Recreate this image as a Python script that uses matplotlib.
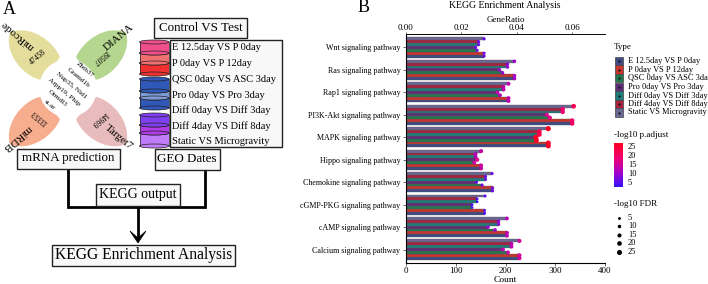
import matplotlib
matplotlib.use('Agg')
import matplotlib.pyplot as plt
import numpy as np
from matplotlib.colors import LinearSegmentedColormap, Normalize
from matplotlib.patches import PathPatch, Rectangle, Ellipse, Circle, Polygon
from matplotlib.path import Path

plt.rcParams['font.family'] = ['Liberation Serif', 'DejaVu Serif']

pathways = ['Wnt signaling pathway', 'Ras signaling pathway', 'Rap1 signaling pathway',
            'PI3K-Akt signaling pathway', 'MAPK signaling pathway', 'Hippo signaling pathway',
            'Chemokine signaling pathway', 'cGMP-PKG signaling pathway',
            'cAMP signaling pathway', 'Calcium signaling pathway']

type_names = ['E 12.5day VS P 0day', 'P 0day VS P 12day', 'QSC 0day VS ASC 3day', 'Pro 0day VS Pro 3day',
              'Diff 0day VS Diff 3day', 'Diff 4day VS Diff 8day', 'Static VS Microgravity']
type_colors = ['#3F4A86', '#C8352E', '#24784F', '#5E2F78', '#1F7C7A', '#A8233F', '#6C6894']

# counts, one list per comparison, same order as pathways
e12_count = [157, 218, 206, 334, 286, 151, 174, 158, 203, 228]
p0_count = [157, 218, 206, 334, 286, 151, 174, 158, 203, 228]
qsc_count = [143, 194, 189, 289, 262, 137, 153, 133, 179, 205]
pro_count = [140, 188, 184, 283, 261, 143, 142, 133, 165, 195]
diff0_count = [146, 204, 196, 315, 268, 140, 160, 143, 186, 212]
diff4_count = [146, 204, 196, 315, 268, 140, 160, 143, 186, 212]
static_count = [157, 218, 206, 337, 286, 151, 173, 159, 203, 228]

e12_padj = [7, 11, 13, 19, 25, 14, 7, 5, 13, 15]
p0_padj = [7, 11, 13, 19, 25, 14, 7, 5, 13, 15]
qsc_padj = [7, 9, 12, 17, 25, 14, 7, 4, 10, 13]
pro_padj = [7, 10, 13, 16, 26, 16, 6, 4, 10, 13]
diff0_padj = [7, 9, 13, 18, 22, 12, 6, 4, 9, 13]
diff4_padj = [7, 9, 13, 18, 22, 12, 6, 4, 9, 13]
static_padj = [7, 10, 13, 21, 26, 14, 7, 6, 12, 15]

all_counts = [e12_count, p0_count, qsc_count, pro_count, diff0_count, diff4_count, static_count]
all_padj = [e12_padj, p0_padj, qsc_padj, pro_padj, diff0_padj, diff4_padj, static_padj]

legend_levels = [25, 20, 15, 10, 5]

W, H = 708, 284
fig = plt.figure(figsize=(W / 100, H / 100), dpi=100)
cmap = LinearSegmentedColormap.from_list('padj', ['#3412FF', '#A800C8', '#F00070', '#FF0020'])
norm = Normalize(3, 26)

# right panel
ax = fig.add_axes([406 / W, 1 - 263 / H, 199 / W, 229 / H])
bar_h = 0.128
for i, (counts, padj) in enumerate(zip(all_counts, all_padj)):
    ypos = np.arange(1, 11) + (3 - i) * bar_h
    ax.barh(ypos, counts, height=bar_h, color=type_colors[i], edgecolor='#555555', linewidth=0.25)
    ax.scatter(counts, ypos, s=np.array(padj) * 0.45 + 2, c=padj, cmap=cmap, norm=norm, zorder=3, linewidths=0)
ax.set_ylim(10.6, 0.4)
ax.set_xlim(0, 400)
ax.set_yticks(np.arange(1, 11))
ax.set_yticklabels(pathways)
ax.set_xticks([0, 100, 200, 300, 400])
ax.set_xlabel('Count', fontsize=6.8, labelpad=0.5)
ax.tick_params(axis='x', labelsize=6.5, length=2, width=0.5, pad=1, color='#333333')
ax.tick_params(axis='y', labelsize=5.8, length=2, width=0.5, pad=2, color='#333333')
ax.spines['right'].set_visible(False)
for s in ['top', 'left', 'bottom']:
    ax.spines[s].set_linewidth(0.6)
    ax.spines[s].set_color('#333333')

top = ax.twiny()
top.set_xlim(0, 0.0718)
top.set_xticks([0, 0.02, 0.04, 0.06])
top.set_xticklabels(['0.00', '0.02', '0.04', '0.06'])
top.tick_params(axis='x', labelsize=6.5, length=1.5, width=0.5, pad=0, color='#333333')
top.spines['right'].set_visible(False)
top.spines['top'].set_linewidth(0.6)
top.set_xlabel('GeneRatio', fontsize=6.5, labelpad=1.5)

# overlay in pixel coordinates for the diagram and legends
ov = fig.add_axes([0, 0, 1, 1], zorder=5)
ov.set_xlim(0, W)
ov.set_ylim(H, 0)
ov.axis('off')
ov.patch.set_alpha(0)

ov.text(505, 5, 'KEGG Enrichment Analysis', fontsize=7, ha='center', va='center')
ov.text(3, 9, 'A', fontsize=13, ha='left', va='center')
ov.text(358, 8, 'B', fontsize=13, ha='left', va='center')

# Type legend
ov.text(614, 47, 'Type', fontsize=6.5, va='center')
ys = [61, 69.5, 78, 87, 95.5, 104, 112.5]
for y, name, c in zip(ys, type_names, type_colors):
    ov.add_patch(Rectangle((614.5, y - 4.2), 8, 8.4, facecolor=c, edgecolor='#444444', linewidth=0.5))
    ov.scatter([618.5], [y], s=2.5, c='#111111', linewidths=0)
    ov.text(628, y, name, fontsize=6, va='center')

# colour bar
ov.text(614, 135, '-log10 p.adjust', fontsize=6.5, va='center')
grad = np.linspace(1, 0, 100).reshape(-1, 1)
ov.imshow(grad, cmap=cmap, extent=(614, 623, 187, 143), aspect='auto', zorder=2)
ov.set_xlim(0, W)
ov.set_ylim(H, 0)
for y, lv in zip([147, 156, 165, 174, 183], legend_levels):
    ov.text(628, y, str(lv), fontsize=6, va='center')

# size legend
ov.text(614, 204, '-log10 FDR', fontsize=6.5, va='center')
for y, lv in zip([218, 226, 235, 243, 252], legend_levels[::-1]):
    ov.scatter([619], [y], s=lv * 0.45 + 2, c='black', linewidths=0)
    ov.text(628, y, str(lv), fontsize=6, va='center')

# left panel, petals
petal_colors = {(-1, -1): '#E4DD9C', (1, -1): '#B5D68F', (1, 1): '#E8BCBC', (-1, 1): '#F7AE8E'}
cx, cy = 68, 88.3
for (sx, sy), c in petal_colors.items():
    verts = [(-8, -31), (-14, -46), (-36, -64), (-58, -56), (-64, -36), (-46, -12), (-26, -8), (-17, -20), (-8, -31)]
    verts = [(cx + sx * abs(vx), cy + sy * abs(vy)) for vx, vy in verts]
    codes = [Path.MOVETO, Path.CURVE4, Path.CURVE4, Path.CURVE4, Path.CURVE4, Path.CURVE4, Path.CURVE4,
             Path.LINETO, Path.LINETO]
    ov.add_patch(PathPatch(Path(verts, codes), facecolor=c, edgecolor='none'))
ov.add_patch(Circle((cx, cy), 29, facecolor='white', edgecolor='none'))

for txt, x, y, rot, fs in [('miRcode', 18, 35, 140, 8), ('47458', 38, 57, 40, 5.5),
                           ('DIANA', 119, 38, 40, 8), ('19507', 100, 57, 220, 5.5),
                           ('miRDB', 17, 138, 220, 8), ('13353', 40, 117, 140, 5.5),
                           ('Target7', 119, 137, -40, 8), ('14969', 99, 119, 220, 5.5)]:
    ov.text(x, y, txt, fontsize=fs, rotation=rot, ha='center', va='center', rotation_mode='anchor')

for txt, x, y in [('Zbtb37', 85, 70), ('Gramd1b', 78, 77.5), ('Nup35, Nid1', 71.5, 85),
                  ('Arpp19, Phip', 64, 92), ('Ormdl3', 57, 98.5), ('st.ar', 50, 105)]:
    ov.text(x, y, txt, fontsize=5.3, rotation=-40, ha='center', va='center', rotation_mode='anchor')

# cylinders
cyl_x, cyl_w = 139.5, 29.5
def cylinder(y0, y1, color):
    ov.add_patch(Rectangle((cyl_x, y0), cyl_w, y1 - y0, facecolor=color, edgecolor='none', zorder=3))
    ov.add_patch(Ellipse((cyl_x + cyl_w / 2, y1), cyl_w, 4, facecolor=color, edgecolor='#222222', linewidth=0.5, zorder=3))
    ov.plot([cyl_x, cyl_x], [y0, y1], color='#222222', lw=0.5, zorder=3)
    ov.plot([cyl_x + cyl_w] * 2, [y0, y1], color='#222222', lw=0.5, zorder=3)
    ov.add_patch(Ellipse((cyl_x + cyl_w / 2, y0), cyl_w, 4, facecolor=color, edgecolor='#222222', linewidth=0.5, zorder=3))

cylinder(63, 74, '#F03030')
cylinder(53, 63, '#F07070')
cylinder(42, 53, '#F04F8C')
cylinder(98, 108, '#3058B8')
cylinder(91, 98, '#7F9BD6')
cylinder(79, 91, '#3058B8')
cylinder(133, 146, '#C07CF8')
cylinder(125, 133, '#B03CE8')
cylinder(115, 125, '#8040F0')

def box(x0, y0, x1, y1, lw=1.0):
    ov.add_patch(Rectangle((x0, y0), x1 - x0, y1 - y0, facecolor='#F8F8F8', edgecolor='#222222', linewidth=lw, zorder=2))

box(170, 39.5, 281.5, 147)
for y, name in zip([47.5, 63, 79, 95, 110.5, 126, 142], type_names):
    ov.text(172.5, y, name, fontsize=7.5, va='center', zorder=4)

# flow lines
ov.plot([68, 68, 204.7, 204.7], [168, 207, 207, 169], color='black', lw=2, solid_joinstyle='miter', zorder=1)
ov.plot([138, 138], [207, 236], color='black', lw=2, zorder=1)
ov.add_patch(Polygon([(130, 231), (138, 238), (146, 231), (138, 243)], closed=True, facecolor='black', edgecolor='black', lw=0.5, zorder=2))

for x0, y0, x1, y1, txt, fs in [(154, 17.5, 247, 38, 'Control VS Test', 9.4),
                                (17, 148.5, 120, 168.5, 'mRNA prediction', 9.4),
                                (154.5, 149, 220, 169.5, 'GEO Dates', 9.4),
                                (95.5, 184, 180, 205.5, 'KEGG output', 10),
                                (52, 244.5, 235, 266, 'KEGG Enrichment Analysis', 11.2)]:
    box(x0, y0, x1, y1)
    ov.text((x0 + x1) / 2, (y0 + y1) / 2, txt, fontsize=fs, ha='center', va='center', zorder=4)

fig.savefig('out.png', dpi=100)
